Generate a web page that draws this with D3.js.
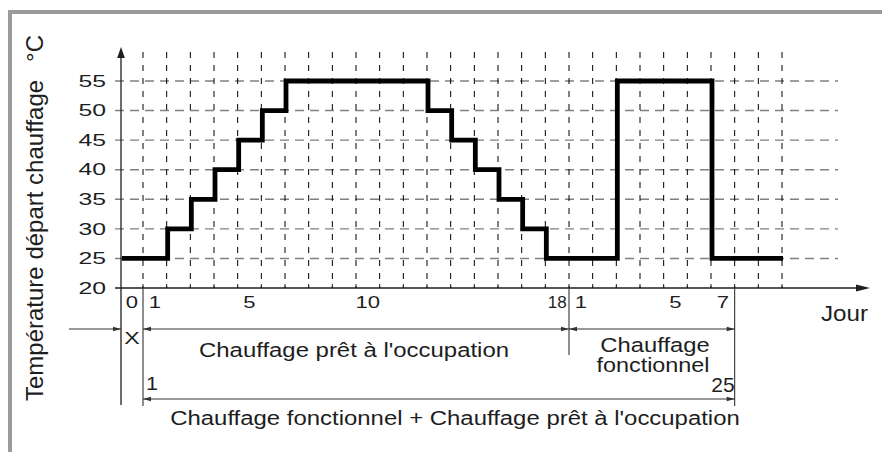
<!DOCTYPE html>
<html>
<head>
<meta charset="utf-8">
<script src="https://cdn.jsdelivr.net/npm/d3@7/dist/d3.min.js"></script>
<style>
  html, body { margin: 0; padding: 0; background: #fff; }
  svg { display: block; font-family: "Liberation Sans", Arial, Helvetica, sans-serif; }
  text { fill: #1e1e1e; }
</style>
</head>
<body>
<svg id="chart" width="882" height="452"></svg>
<script>
// Flow temperature set point for each day slot (slot 0 = day "X",
// slots 1-18 = screed heating days 1-18, slots 19+ = functional heating days 1-...)
const dailyTemps = [25, 25, 30, 35, 40, 45, 50, 55, 55, 55, 55, 55, 55, 50, 45, 40, 35, 30, 25, 25, 25, 55, 55, 55, 55, 25, 25, 25];
const lastSlot = 28;

// Y axis ticks (°C)
const yTicks = [20, 25, 30, 35, 40, 45, 50, 55];
const yGrid = [25, 30, 35, 40, 45, 50, 55];

// Day labels shown below the axis: slot index and text
const daySlots = [0, 1, 5, 10, 18, 19, 23, 25];
const dayLabels = ["0", "1", "5", "10", "18", "1", "5", "7"];

// Phase boundaries (slot indices)
const phaseStart = 1;      // first day of the programme
const readyEnd = 19;       // end of "Chauffage prêt à l'occupation" (day 18)
const functionalEnd = 26;  // end of "Chauffage fonctionnel" (day 7 / day 25 overall)

const svg = d3.select("#chart");

const x = d3.scaleLinear().domain([0, 1, lastSlot]).range([121, 143, 782]);
const y = d3.scaleLinear().domain([20, 55]).range([288, 81]);

const ink = "#1e1e1e";

// Frame (top and left borders)
svg.append("rect").attr("x", 8).attr("y", 10).attr("width", 874).attr("height", 4).attr("fill", "#9b9b9b");
svg.append("rect").attr("x", 8).attr("y", 10).attr("width", 4).attr("height", 442).attr("fill", "#9b9b9b");

// Horizontal grid (grey dashes)
svg.append("g").selectAll("line").data(yGrid).join("line")
  .attr("x1", 115).attr("x2", 838)
  .attr("y1", d => y(d)).attr("y2", d => y(d))
  .attr("stroke", "#808080").attr("stroke-width", 1.4)
  .attr("stroke-dasharray", "9,6");

// Vertical grid (black dashes), one per day boundary
const slotIdx = d3.range(1, lastSlot + 1);
svg.append("g").selectAll("line").data(slotIdx).join("line")
  .attr("x1", d => x(d)).attr("x2", d => x(d))
  .attr("y1", 52).attr("y2", y(20))
  .attr("stroke", "#000").attr("stroke-width", 1)
  .attr("stroke-dasharray", "6,7");

// Small ticks on the day axis
svg.append("g").selectAll("line").data(slotIdx).join("line")
  .attr("x1", d => x(d)).attr("x2", d => x(d))
  .attr("y1", y(20) - 4).attr("y2", y(20))
  .attr("stroke", ink).attr("stroke-width", 1);

// Axes
svg.append("line").attr("x1", x(0)).attr("x2", x(0)).attr("y1", 56).attr("y2", 405)
  .attr("stroke", ink).attr("stroke-width", 1.3);
svg.append("path").attr("d", `M${x(0)},47 L${x(0) - 3.8},58 L${x(0) + 3.8},58 Z`).attr("fill", ink);
svg.append("line").attr("x1", 115).attr("x2", 858).attr("y1", y(20)).attr("y2", y(20))
  .attr("stroke", ink).attr("stroke-width", 1.3);
svg.append("path").attr("d", `M870,${y(20)} L856,${y(20) - 3.5} L856,${y(20) + 3.5} Z`).attr("fill", ink);

// Y tick labels
svg.append("g").selectAll("text").data(yTicks).join("text")
  .attr("transform", d => `translate(106,${y(d) + 5.7}) scale(1.55,1)`)
  .attr("text-anchor", "end").attr("font-size", 16)
  .text(d => d);

// Day labels
svg.append("g").selectAll("text").data(daySlots).join("text")
  .attr("transform", (d, i) => `translate(${(x(d) + x(d + 1)) / 2},308) scale(${dayLabels[i] === "18" ? 1.0 : 1.3},1)`)
  .attr("text-anchor", "middle").attr("font-size", 17)
  .text((d, i) => dayLabels[i]);

// Temperature profile
const pts = dailyTemps.map((t, i) => [i, t]).concat([[lastSlot, dailyTemps[dailyTemps.length - 1]]]);
svg.append("path")
  .datum(pts)
  .attr("d", d3.line().x(d => x(d[0])).y(d => y(d[1])).curve(d3.curveStepAfter))
  .attr("transform", "translate(1,0)")
  .attr("fill", "none").attr("stroke", "#000").attr("stroke-width", 4.8)
  .attr("stroke-linejoin", "miter").attr("stroke-linecap", "butt");

// Axis titles
const yTitle = svg.append("text")
  .attr("transform", "translate(43,218) rotate(-90)")
  .attr("text-anchor", "middle").attr("font-size", 24);
yTitle.append("tspan").text("Température départ chauffage");
yTitle.append("tspan").attr("dx", 18).text("°C");
svg.append("text")
  .attr("transform", "translate(821,321) scale(1.1,1)")
  .attr("font-size", 22).text("Jour");

// Phase dimension lines
const dim = svg.append("g").attr("stroke", "#333").attr("stroke-width", 1.1);
dim.append("line").attr("x1", x(phaseStart)).attr("x2", x(phaseStart)).attr("y1", y(20)).attr("y2", 406);
dim.append("line").attr("x1", x(readyEnd)).attr("x2", x(readyEnd)).attr("y1", y(20)).attr("y2", 355);
dim.append("line").attr("x1", x(functionalEnd)).attr("x2", x(functionalEnd)).attr("y1", y(20)).attr("y2", 406);

function arrowHead(px, py, dir) {
  svg.append("path")
    .attr("d", `M${px},${py} L${px - dir * 8},${py - 2.3} L${px - dir * 8},${py + 2.3} Z`)
    .attr("fill", "#333");
}
function dimLine(x1, x2, py, startHead, endHead) {
  svg.append("line").attr("x1", x1).attr("x2", x2).attr("y1", py).attr("y2", py)
    .attr("stroke", "#333").attr("stroke-width", 1.1);
  if (startHead) arrowHead(x1, py, -1);
  if (endHead) arrowHead(x2, py, 1);
}
dimLine(69, x(0), 329, false, true);
dimLine(x(phaseStart), x(readyEnd), 329, true, true);
dimLine(x(readyEnd), x(functionalEnd), 329, true, true);
dimLine(x(phaseStart), x(functionalEnd), 399, true, true);

// Phase labels
function label(txt, px, py, size, sx, anchor) {
  svg.append("text")
    .attr("transform", `translate(${px},${py}) scale(${sx},1)`)
    .attr("text-anchor", anchor).attr("font-size", size).text(txt);
}
label("X", (x(0) + x(1)) / 2, 344, 16, 1.45, "middle");
label("Chauffage prêt à l'occupation", 354, 357, 21, 1.14, "middle");
label("Chauffage", 655, 352, 19.5, 1.22, "middle");
label("fonctionnel", 653, 372, 19.5, 1.2, "middle");
label("1", x(phaseStart) + 3, 390, 18, 1.2, "start");
label("25", x(functionalEnd), 392, 21, 1.0, "end");
label("Chauffage fonctionnel + Chauffage prêt à l'occupation", 455, 425, 21, 1.14, "middle");
</script>
</body>
</html>
